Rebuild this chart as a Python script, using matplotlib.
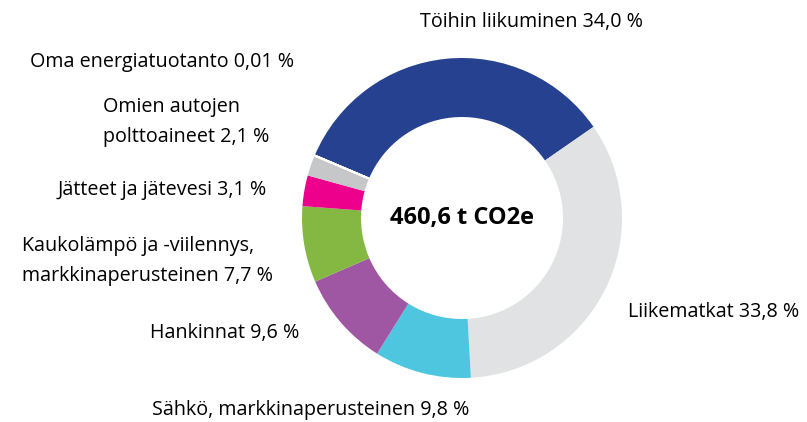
import matplotlib.pyplot as plt

plt.rcParams['font.family'] = ['Open Sans', 'DejaVu Sans']

labels = ["Töihin liikuminen 34,0 %", "Liikematkat 33,8 %", "Sähkö, markkinaperusteinen 9,8 %",
          "Hankinnat 9,6 %", "Kaukolämpö ja -viilennys,\nmarkkinaperusteinen 7,7 %",
          "Jätteet ja jätevesi 3,1 %", "Omien autojen\npolttoaineet 2,1 %",
          "Oma energiatuotanto 0,01 %"]
values = [34.0, 33.8, 9.8, 9.6, 7.7, 3.1, 2.1, 0.01]
colors = ["#25418f", "#e1e2e4", "#4fc6e0", "#a057a3", "#84b843", "#ec008c", "#c6c7c9", "#ffffff"]
total_label = "460,6 t CO2e"

# label anchor positions in pixels (x, y)
label_pos = [(420, 22), (628, 312), (152, 410), (150, 333), (22, 261),
             (58, 190), (103, 122), (30, 62)]

fig = plt.figure(figsize=(8.07, 4.22), dpi=100)
ax = fig.add_axes([0, 0, 1, 1])

# y axis is flipped below, so angles run the other way
wedges, _ = ax.pie(values, colors=colors, startangle=-157, counterclock=True,
                   center=(462, 218), radius=160, frame=True,
                   wedgeprops=dict(width=59, linewidth=0))
wedges[-1].set_edgecolor("white")
wedges[-1].set_linewidth(1.5)

ax.set_xlim(0, 807)
ax.set_ylim(422, 0)
ax.set_aspect("equal")
ax.axis("off")

for lab, (x, y) in zip(labels, label_pos):
    ax.text(x, y, lab, ha="left", va="center", fontsize=14.2, linespacing=1.68)

ax.text(462, 218, total_label, ha="center", va="center", fontsize=17, fontweight="bold")

fig.savefig("out.png", dpi=100)
